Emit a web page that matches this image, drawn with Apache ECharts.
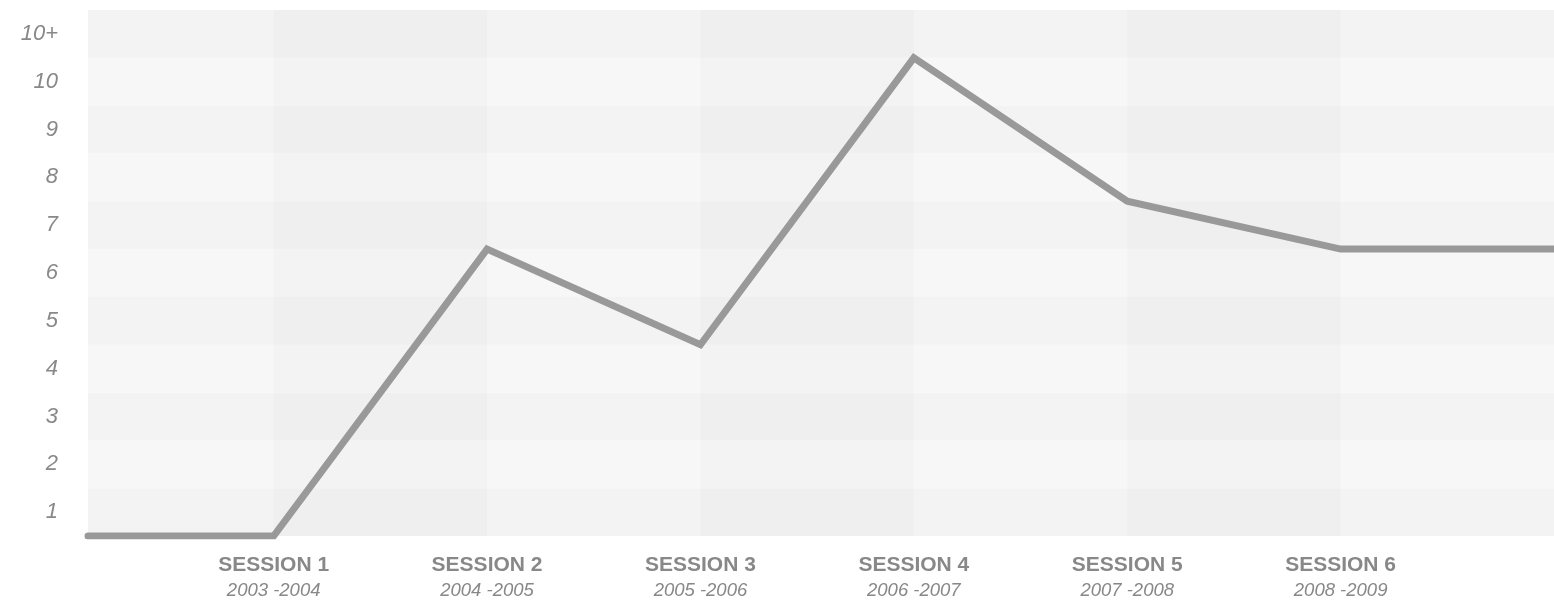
<!DOCTYPE html>
<html>
<head>
<meta charset="utf-8">
<script src="https://cdn.jsdelivr.net/npm/echarts@6/dist/echarts.min.js"></script>
<style>
html,body{margin:0;padding:0;background:#fff;}
#c{width:1554px;height:601px;}
</style>
</head>
<body>
<div id="c"></div>
<script>
// Data
var sessionNames = ['SESSION 1','SESSION 2','SESSION 3','SESSION 4','SESSION 5','SESSION 6'];
var sessionYears = ['2003 -2004','2004 -2005','2005 -2006','2006 -2007','2007 -2008','2008 -2009'];
var sessionPositions = [1,2,3,4,5,6];
var pointX = [0.13, 1, 2, 3, 4, 5, 6, 7];
var pointY = [0, 0, 6, 4, 10, 7, 6, 6];
var yLabels = ['1','2','3','4','5','6','7','8','9','10','10+'];
var shadedSessions = [1, 3, 5];

var lineData = pointX.map(function(x,i){ return [x, pointY[i]]; });
var bandData = shadedSessions.map(function(s){ return [{xAxis: s}, {xAxis: s + 1}]; });

var chart = echarts.init(document.getElementById('c'), null, {renderer:'canvas'});
chart.setOption({
  animation: false,
  grid: {left: 88, right: 0, top: 10, bottom: 65},
  xAxis: {
    type: 'value',
    min: pointX[0],
    max: pointX[pointX.length-1],
    axisLine: {show:false},
    axisTick: {show:false},
    splitLine: {show:false},
    axisLabel: {
      customValues: sessionPositions,
      margin: 17,
      formatter: function(v){
        var i = sessionPositions.indexOf(v);
        if (i < 0) return '';
        return '{a|' + sessionNames[i] + '}\n{b|' + sessionYears[i] + '}';
      },
      rich: {
        a: {fontFamily:'Liberation Sans, Arial, sans-serif', fontWeight:'bold', fontSize:21, color:'#888', lineHeight:25, align:'center'},
        b: {fontFamily:'Liberation Sans, Arial, sans-serif', fontStyle:'italic', fontSize:18.5, color:'#888', lineHeight:26, align:'center'}
      }
    }
  },
  yAxis: [{
    type: 'value',
    min: 0, max: 11, interval: 1,
    axisLine: {show:false},
    axisTick: {show:false},
    axisLabel: {show:false},
    splitLine: {show:false},
    splitArea: {show:true, areaStyle:{color:['#f3f3f3','#f7f7f7']}}
  },{
    type: 'category',
    data: yLabels,
    position: 'left',
    boundaryGap: true,
    axisLine: {show:false},
    axisTick: {show:false},
    splitLine: {show:false},
    axisLabel: {
      margin: 30,
      fontFamily:'Liberation Sans, Arial, sans-serif',
      fontStyle:'italic',
      fontSize: 22,
      color:'#888',
      padding: [0,0,6,0]
    }
  }],
  series: [{
    type: 'line',
    yAxisIndex: 0,
    data: lineData,
    symbol: 'none',
    lineStyle: {color:'#999', width:7, cap:'round', join:'miter'},
    markArea: {
      silent: true,
      itemStyle: {color:'rgba(0,0,0,0.017)'},
      data: bandData
    },
    z: 5
  }]
});
</script>
</body>
</html>
